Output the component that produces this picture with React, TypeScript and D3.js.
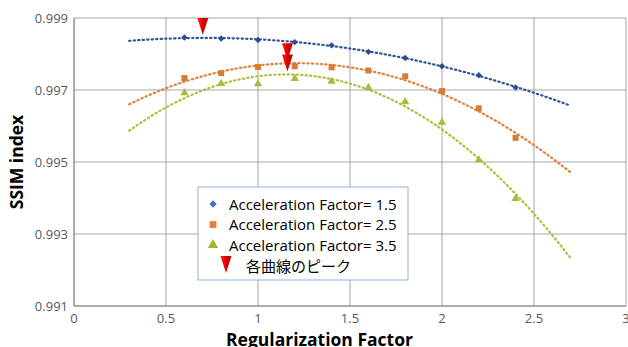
import React from 'react';
import * as d3 from 'd3';

// regularization factor values sampled
const regFactor = [0.6, 0.8, 1.0, 1.2, 1.4, 1.6, 1.8, 2.0, 2.2, 2.4];

// SSIM index for each acceleration factor
const ssimAF15 = [0.99846, 0.99843, 0.99839, 0.99833, 0.99824, 0.99806, 0.99789, 0.99766, 0.99741, 0.99707];
const ssimAF25 = [0.99733, 0.99747, 0.99764, 0.99766, 0.99763, 0.99754, 0.99738, 0.99697, 0.99649, 0.99567];
const ssimAF35 = [0.99692, 0.99718, 0.99717, 0.99732, 0.99724, 0.99707, 0.99667, 0.9961, 0.99506, 0.99398];

const seriesNames = ['Acceleration Factor= 1.5', 'Acceleration Factor= 2.5', 'Acceleration Factor= 3.5'];
const peakLabel = '各曲線のピーク';
const peakX = [0.7, 1.16, 1.16];

const trendRange = [0.3, 2.7];
const xTicks = [0, 0.5, 1, 1.5, 2, 2.5, 3];
const yTicks = [0.991, 0.993, 0.995, 0.997, 0.999];

const W = 628;
const H = 347;
const margin = { top: 18, right: 2, bottom: 41, left: 74 };

const markerColors = ['#2B4F8C', '#D97B35', '#A3BD3C'];
const lineColors = ['#2F5597', '#E2803C', '#A9C43A'];
const legendColors = ['#4472C4', '#ED7D31', '#A5B52A'];

// least-squares 2nd order polynomial (like the spreadsheet trendline)
function quadFit(xs: number[], ys: number[]) {
  const s = [0, 0, 0, 0, 0];
  const t = [0, 0, 0];
  xs.forEach((x, i) => {
    for (let k = 0; k < 5; k++) s[k] += Math.pow(x, k);
    for (let k = 0; k < 3; k++) t[k] += ys[i] * Math.pow(x, k);
  });
  const m = [
    [s[0], s[1], s[2], t[0]],
    [s[1], s[2], s[3], t[1]],
    [s[2], s[3], s[4], t[2]],
  ];
  for (let i = 0; i < 3; i++) {
    for (let j = i + 1; j < 3; j++) {
      const f = m[j][i] / m[i][i];
      for (let k = i; k < 4; k++) m[j][k] -= f * m[i][k];
    }
  }
  const c = [0, 0, 0];
  for (let i = 2; i >= 0; i--) {
    let v = m[i][3];
    for (let k = i + 1; k < 3; k++) v -= m[i][k] * c[k];
    c[i] = v / m[i][i];
  }
  return (x: number) => c[0] + c[1] * x + c[2] * x * x;
}

export default function App() {
  const x = d3.scaleLinear().domain([0, 3]).range([margin.left, W - margin.right]);
  const y = d3.scaleLinear().domain([0.991, 0.999]).range([H - margin.bottom, margin.top]);

  const series = [ssimAF15, ssimAF25, ssimAF35];
  const fits = series.map(s => quadFit(regFactor, s));
  const samples = d3.range(trendRange[0], trendRange[1] + 0.0001, 0.02);
  const line = (f: (v: number) => number) =>
    d3.line<number>().x(v => x(v)).y(v => y(f(v))).curve(d3.curveMonotoneX)(samples) || '';

  const symbols = [d3.symbolDiamond2, d3.symbolSquare, d3.symbolTriangle];
  const sym = (i: number, size: number) => d3.symbol().type(symbols[i]).size(size)() || '';

  const tri = (cx: number, tipY: number, w = 11, h = 17) =>
    `M${cx - w / 2},${tipY - h} L${cx + w / 2},${tipY - h} L${cx},${tipY} Z`;

  const font = '"Open Sans", "Noto Sans", sans-serif';
  const lg = { x: 198, y: 187, w: 210, h: 93 };

  return (
    <svg width={W} height={H} style={{ position: 'absolute', left: 0, top: 0 }} fontFamily={font}>
      <defs>
        <linearGradient id="redg" x1="0" x2="1" y1="0" y2="0">
          <stop offset="0" stopColor="#FF2020" />
          <stop offset="0.5" stopColor="#E00000" />
          <stop offset="1" stopColor="#A80000" />
        </linearGradient>
      </defs>
      <rect width={W} height={H} fill="#fff" />

      {/* grid */}
      {xTicks.map(t => (
        <line key={'gx' + t} x1={x(t)} x2={x(t)} y1={y(0.999)} y2={y(0.991)} stroke="#A6A6A6" strokeWidth={1} />
      ))}
      {yTicks.map(t => (
        <line key={'gy' + t} x1={x(0)} x2={x(3)} y1={y(t)} y2={y(t)} stroke="#A6A6A6" strokeWidth={1} />
      ))}
      <line x1={x(0)} x2={x(0)} y1={y(0.999)} y2={y(0.991)} stroke="#868686" />
      <line x1={x(0)} x2={x(3)} y1={y(0.991)} y2={y(0.991)} stroke="#868686" />

      {/* tick labels */}
      {xTicks.map(t => (
        <text key={'tx' + t} x={x(t)} y={H - 24} textAnchor="middle" fontSize={13} fill="#595959">
          {String(t)}
        </text>
      ))}
      {yTicks.map(t => (
        <text key={'ty' + t} x={68} y={y(t) + 4.5} textAnchor="end" fontSize={13} fill="#595959">
          {d3.format('.3f')(t)}
        </text>
      ))}

      {/* axis titles */}
      <text x={319.5} y={H - 1} textAnchor="middle" fontSize={17.5} fontWeight="bold" fill="#000">
        Regularization Factor
      </text>
      <text
        transform={`translate(23,${(y(0.999) + y(0.991)) / 2}) rotate(-90)`}
        textAnchor="middle"
        fontSize={17.5}
        fontWeight="bold"
        fill="#000"
      >
        SSIM index
      </text>

      {/* trendlines */}
      {fits.map((f, i) => (
        <path
          key={'tl' + i}
          d={line(f)}
          fill="none"
          stroke={lineColors[i]}
          strokeWidth={2.2}
          strokeDasharray="1.3 3.2"
          strokeLinecap="round"
        />
      ))}

      {/* markers */}
      {series.map((s, i) =>
        s.map((v, j) => (
          <path
            key={`m${i}-${j}`}
            d={sym(i, i === 1 ? 36 : i === 0 ? 26 : 30)}
            transform={`translate(${x(regFactor[j])},${y(v)})`}
            fill={markerColors[i]}
          />
        ))
      )}

      {/* peaks */}
      {peakX.map((p, i) => (
        <path key={'pk' + i} d={tri(x(p), y(fits[i](p)) - 3)} fill="url(#redg)" />
      ))}

      {/* legend */}
      <rect x={lg.x} y={lg.y} width={lg.w} height={lg.h} fill="#fff" stroke="#8DB4E2" strokeWidth={1} />
      {seriesNames.map((n, i) => (
        <g key={'lg' + i} transform={`translate(0,${lg.y + 17 + i * 20.5})`}>
          <path d={sym(i, i === 0 ? 36 : 46)} transform="translate(213,0)" fill={legendColors[i]} />
          <text x={229} y={5.5} fontSize={15} fill="#000">
            {n}
          </text>
        </g>
      ))}
      <path d={tri(226, lg.y + 86, 11, 17)} fill="url(#redg)" />
      <text x={246} y={lg.y + 84.5} fontSize={15} fill="#000" fontFamily='"Noto Sans CJK JP", sans-serif'>
        {peakLabel}
      </text>
    </svg>
  );
}
